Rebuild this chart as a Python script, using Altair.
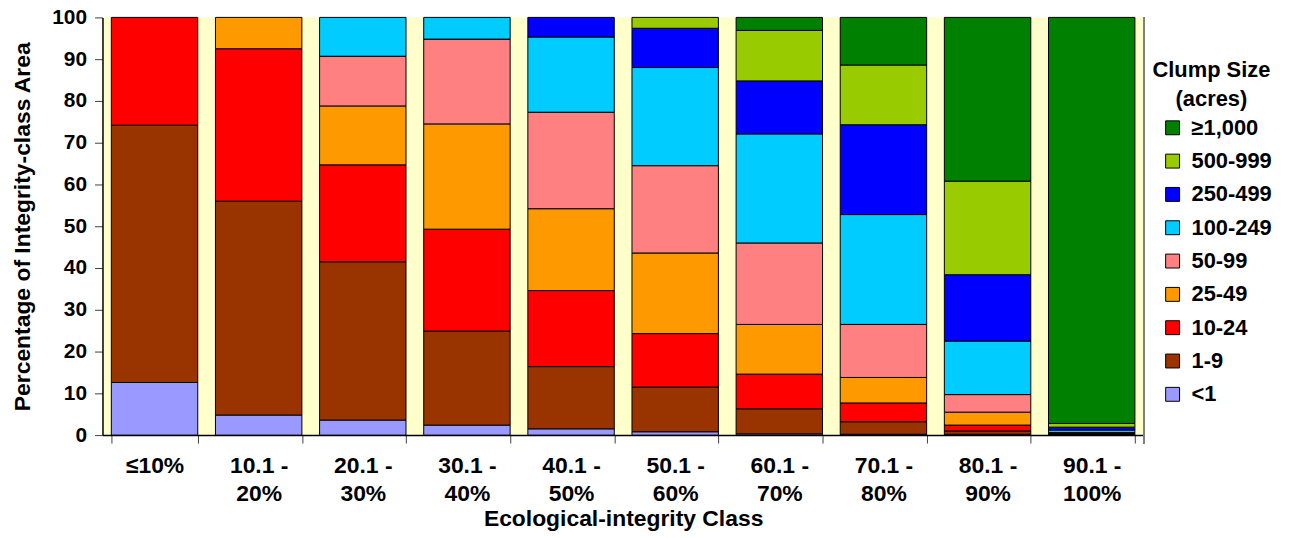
import altair as alt
import pandas as pd

categories = ["≤10%", "10.1 - 20%", "20.1 - 30%", "30.1 - 40%", "40.1 - 50%",
              "50.1 - 60%", "60.1 - 70%", "70.1 - 80%", "80.1 - 90%", "90.1 - 100%"]

# series listed bottom (smallest clumps) to top
series = ["<1", "1-9", "10-24", "25-49", "50-99", "100-249", "250-499", "500-999", "≥1,000"]
colors = ["#9999FF", "#993300", "#FF0000", "#FF9900", "#FF8080", "#00CCFF", "#0000FF", "#99CC00", "#008000"]

lt1      = [12.6, 4.8, 3.6, 2.4, 1.5, 0.8, 0.3, 0.2, 0.2, 0.1]
s1_9     = [61.6, 51.2, 37.9, 22.5, 14.9, 10.7, 6.0, 3.0, 0.8, 0.1]
s10_24   = [25.8, 36.5, 23.2, 24.4, 18.2, 12.8, 8.3, 4.5, 1.4, 0.1]
s25_49   = [0.0, 7.5, 14.1, 25.2, 19.6, 19.3, 11.9, 6.1, 3.1, 0.1]
s50_99   = [0.0, 0.0, 11.9, 20.3, 23.1, 20.9, 19.5, 12.7, 4.2, 0.2]
s100_249 = [0.0, 0.0, 9.3, 5.2, 18.0, 23.5, 26.1, 26.3, 12.8, 0.6]
s250_499 = [0.0, 0.0, 0.0, 0.0, 4.7, 9.4, 12.7, 21.5, 15.9, 0.7]
s500_999 = [0.0, 0.0, 0.0, 0.0, 0.0, 2.6, 12.1, 14.3, 22.4, 0.9]
s1000    = [0.0, 0.0, 0.0, 0.0, 0.0, 0.0, 3.1, 11.4, 39.2, 97.2]

values = [lt1, s1_9, s10_24, s25_49, s50_99, s100_249, s250_499, s500_999, s1000]

rows = []
for si, (name, vals) in enumerate(zip(series, values)):
    for cat, v in zip(categories, vals):
        if v > 0:
            rows.append({"cls": cat, "size": name, "pct": v, "order": si})
df = pd.DataFrame(rows)

FONT = "Liberation Sans"
W, H = 1047, 420

label_expr = ("indexof(datum.label, ' - ') > 0 ? "
              "[substring(datum.label, 0, indexof(datum.label, ' - ') + 2), "
              "substring(datum.label, indexof(datum.label, ' - ') + 3)] : datum.label")

bars = alt.Chart(df).mark_bar(stroke="black", strokeWidth=1).encode(
    x=alt.X("cls:N", sort=categories,
            scale=alt.Scale(paddingInner=0.17, paddingOuter=0.085),
            axis=alt.Axis(title="Ecological-integrity Class", labelAngle=0,
                          labelExpr=label_expr, tickBand="extent",
                          labelPadding=12, labelLineHeight=28,
                          labelFontSize=23, titleFontSize=23,
                          titlePadding=2)),
    y=alt.Y("pct:Q", stack="zero",
            scale=alt.Scale(domain=[0, 100]),
            axis=alt.Axis(title="Percentage of Integrity-class Area",
                          values=list(range(0, 101, 10)), grid=False,
                          labelFontSize=21, labelPadding=8,
                          titleFontSize=23, titlePadding=17)),
    color=alt.Color("size:N",
                    scale=alt.Scale(domain=series[::-1], range=colors[::-1]),
                    legend=alt.Legend(title=["Clump Size", "(acres)"],
                                      orient="none", legendX=1054, legendY=43,
                                      symbolType="square", symbolSize=196,
                                      symbolStrokeColor="black", symbolStrokeWidth=1,
                                      symbolOffset=11,
                                      titleAlign="center", titleAnchor="middle",
                                      titleFontSize=22, labelFontSize=22,
                                      titleLineHeight=29, titlePadding=6,
                                      rowPadding=11.5, labelOffset=8)),
    order=alt.Order("order:Q", sort="ascending"),
)

border = alt.Chart(df).mark_rule(color="#808080", strokeWidth=1).encode(
    x=alt.value(W), y=alt.value(0), y2=alt.value(H + 8)
)

chart = alt.layer(bars, border).properties(
    width=W, height=H,
    autosize=alt.AutoSizeParams(type="none"),
    padding={"left": 95, "top": 8, "right": 140, "bottom": 100},
    background="white",
).configure_view(
    fill="#FFFFCC", stroke=None
).configure_axis(
    labelFont=FONT, titleFont=FONT, labelFontWeight="bold", titleFontWeight="bold",
    labelColor="black", titleColor="black",
    domainColor="black", tickColor="#404040", tickSize=8, domainWidth=1.5
).configure_legend(
    labelFont=FONT, titleFont=FONT, labelFontWeight="bold", titleFontWeight="bold",
    labelColor="black", titleColor="black"
)

chart.save("out.html", embed_options={"renderer": "svg", "actions": False})
